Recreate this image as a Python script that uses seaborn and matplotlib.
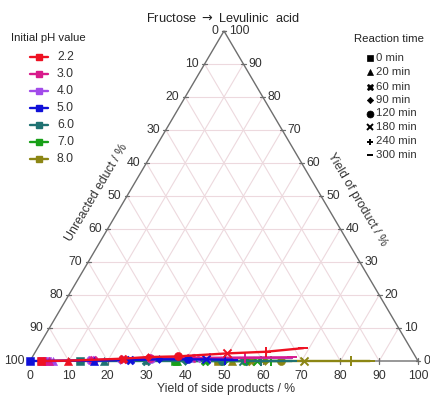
import numpy as np
import pandas as pd
import matplotlib
matplotlib.use("Agg")
import matplotlib.pyplot as plt
from matplotlib.lines import Line2D
import seaborn as sns

sns.set_theme(style="white")
plt.rcParams['font.family'] = ['Liberation Sans', 'DejaVu Sans']

# ---------------- data ----------------
times = [0, 20, 60, 90, 120, 180, 240, 300]
time_labels = ["0 min", "20 min", "60 min", "90 min", "120 min", "180 min", "240 min", "300 min"]
ph_labels = ["2.2", "3.0", "4.0", "5.0", "6.0", "7.0", "8.0"]

# yield of side products (%) per time point
side_22 = [2.8, 9.8, 23.5, 29.7, 37.5, 49.6, 59.4, 68.5]
side_30 = [3.0, 5.0, 16.0, 23.5, 30.5, 41.0, 55.0, 67.0]
side_40 = [4.3, 5.8, 15.5, 23.0, 31.0, 42.5, 46.0, 66.0]
side_50 = [0.0, 16.5, 25.5, 33.0, 40.5, 45.0, 50.0, 52.0]
side_60 = [12.8, 19.0, 30.0, 40.0, 49.5, 55.0, 59.5, 67.5]
side_70 = [37.5, 38.0, 45.0, 50.0, 55.5, 58.5, 62.0, 64.5]
side_80 = [48.5, 52.0, 57.0, 60.5, 64.8, 70.5, 82.7, 87.6]

# yield of product (levulinic acid, %) per time point
prod_22 = [0.0, 0.1, 0.7, 1.2, 1.4, 2.3, 2.8, 3.9]
prod_30 = [0.0, 0.0, 0.3, 0.6, 0.8, 0.9, 1.0, 1.1]
prod_40 = [0.0, 0.0, 0.2, 0.4, 0.6, 0.8, 0.9, 1.0]
prod_50 = [0.0, 0.1, 0.3, 0.5, 0.5, 0.5, 0.4, 0.4]
prod_60 = [0.0, 0.0, 0.0, 0.0, 0.0, 0.0, 0.0, 0.0]
prod_70 = [0.0, 0.0, 0.0, 0.0, 0.0, 0.0, 0.0, 0.0]
prod_80 = [0.0, 0.0, 0.0, 0.0, 0.0, 0.0, 0.0, 0.0]

sides = [side_22, side_30, side_40, side_50, side_60, side_70, side_80]
prods = [prod_22, prod_30, prod_40, prod_50, prod_60, prod_70, prod_80]

colors = ["#EE1122", "#D81B8C", "#A24BEA", "#1010D8", "#1F7272", "#18A018", "#8C8614"]
time_markers = ["s", "^", "X", "D", "o", "x", "+", "_"]
marker_sizes = [34, 34, 40, 16, 34, 34, 44, 44]

rows = []
for ph, s_arr, p_arr in zip(ph_labels, sides, prods):
    for t, tl, s, p in zip(times, time_labels, s_arr, p_arr):
        rows.append({"pH": ph, "time": tl, "t": t, "side": s, "product": p,
                     "educt": 100 - s - p})
df = pd.DataFrame(rows)
# ternary -> cartesian (x along side-products axis, y = product)
df["x"] = df["side"] + df["product"] / 2.0
df["y"] = df["product"]

# ---------------- figure ----------------
W, H = 431, 399
fig = plt.figure(figsize=(W / 100, H / 100), dpi=100)
ax = fig.add_axes([30 / W, 38 / H, 388 / W, 330 / H])
ax.set_xlim(0, 100)
ax.set_ylim(0, 100)
ax.axis("off")

grid_c = "#EDD9DE"
edge_c = "#6E6E6E"
txt_c = "#333333"
fs = 8.8
lfs = 8.2

for k in range(10, 100, 10):
    ax.plot([k / 2, 100 - k / 2], [k, k], color=grid_c, lw=0.8, zorder=1)
    ax.plot([k, 50 + k / 2], [0, 100 - k], color=grid_c, lw=0.8, zorder=1)
    ax.plot([100 - k, (100 - k) / 2], [0, 100 - k], color=grid_c, lw=0.8, zorder=1)

ax.plot([0, 100, 50, 0], [0, 0, 100, 0], color=edge_c, lw=1.0, zorder=2,
        clip_on=False, solid_joinstyle="miter")

# ticks and tick labels
for v in range(0, 101, 10):
    ax.plot([v, v], [-1.0, 1.0], color=edge_c, lw=0.9, clip_on=False, zorder=2)
    ax.text(v, -2.6, str(v), ha="center", va="top", fontsize=fs, color=txt_c)
    yl = 100 - v
    xl = yl / 2
    ax.plot([xl - 0.6, xl + 0.6], [yl, yl], color=edge_c, lw=0.9, clip_on=False, zorder=2)
    ax.text(xl - 1.5, yl, str(v), ha="right", va="center", fontsize=fs, color=txt_c)
    xr = 100 - v / 2
    ax.plot([xr - 0.6, xr + 0.6], [v, v], color=edge_c, lw=0.9, clip_on=False, zorder=2)
    ax.text(xr + 1.3, v, str(v), ha="left", va="center", fontsize=fs, color=txt_c)

# data lines & markers
draw_order = ["8.0", "7.0", "6.0", "4.0", "3.0", "5.0", "2.2"]
pal = dict(zip(ph_labels, colors))
for i, ph in enumerate(draw_order):
    sub = df[df["pH"] == ph]
    sns.lineplot(data=sub, x="x", y="y", color=pal[ph], sort=False, lw=1.7,
                 ax=ax, zorder=3 + i, clip_on=False, legend=False)
    for tl, m, ms in zip(time_labels, time_markers, marker_sizes):
        pt = sub[sub["time"] == tl]
        sns.scatterplot(data=pt, x="x", y="y", color=pal[ph], marker=m, s=ms,
                        linewidth=1.4 if m in ("x", "+", "_") else 0.4,
                        edgecolor=pal[ph], ax=ax, zorder=3 + i, clip_on=False,
                        legend=False)
ax.set_xlabel("")
ax.set_ylabel("")
ax.set_xlim(0, 100)
ax.set_ylim(0, 100)

def px(x, y):
    return (x / W, 1 - y / H)

# titles / axis labels
fig.text(*px(223, 18), "Fructose $\\rightarrow$ Levulinic  acid", ha="center",
         va="center", fontsize=9.2, color="#222222")
fig.text(*px(226, 389), "Yield of side products / %", ha="center",
         va="center", fontsize=fs, color=txt_c)
fig.text(*px(97, 193), "Unreacted educt / %", ha="center", va="center",
         rotation=59.4, fontsize=fs, color=txt_c, rotation_mode="anchor")
fig.text(*px(357, 200), "Yield of product / %", ha="center", va="center",
         rotation=-59.4, fontsize=fs, color=txt_c, rotation_mode="anchor")

# legend: initial pH value (drawn manually in figure pixels)
fig.text(*px(11, 38), "Initial pH value", ha="left", va="center",
         fontsize=lfs, color="#222222")
ph_y = [57, 74, 91, 108, 125, 142, 159]
for c, lab, yy in zip(colors, ph_labels, ph_y):
    fig.add_artist(Line2D([30 / W, 48 / W], [1 - yy / H, 1 - yy / H],
                          color=c, lw=1.7, transform=fig.transFigure))
    fig.add_artist(Line2D([39 / W], [1 - yy / H], color=c, lw=0, marker="s",
                          markersize=5, transform=fig.transFigure))
    fig.text(*px(57, yy), lab, ha="left", va="center", fontsize=fs, color=txt_c)

# legend: reaction time
fig.text(*px(354, 39), "Reaction time", ha="left", va="center",
         fontsize=lfs, color="#222222")
tm_y = [58, 72, 86.5, 100, 113.5, 127, 141.5, 155]
for m, lab, yy in zip(time_markers, time_labels, tm_y):
    fig.add_artist(Line2D([370 / W], [1 - yy / H], color="black", lw=0, marker=m,
                          markersize=3.2 if m == "D" else 5,
                          markeredgewidth=1.4 if m in ("x", "+", "_") else 0.5,
                          transform=fig.transFigure))
    fig.text(*px(376.5, yy), lab, ha="left", va="center", fontsize=lfs, color=txt_c)

fig.savefig("out.png", dpi=100)
